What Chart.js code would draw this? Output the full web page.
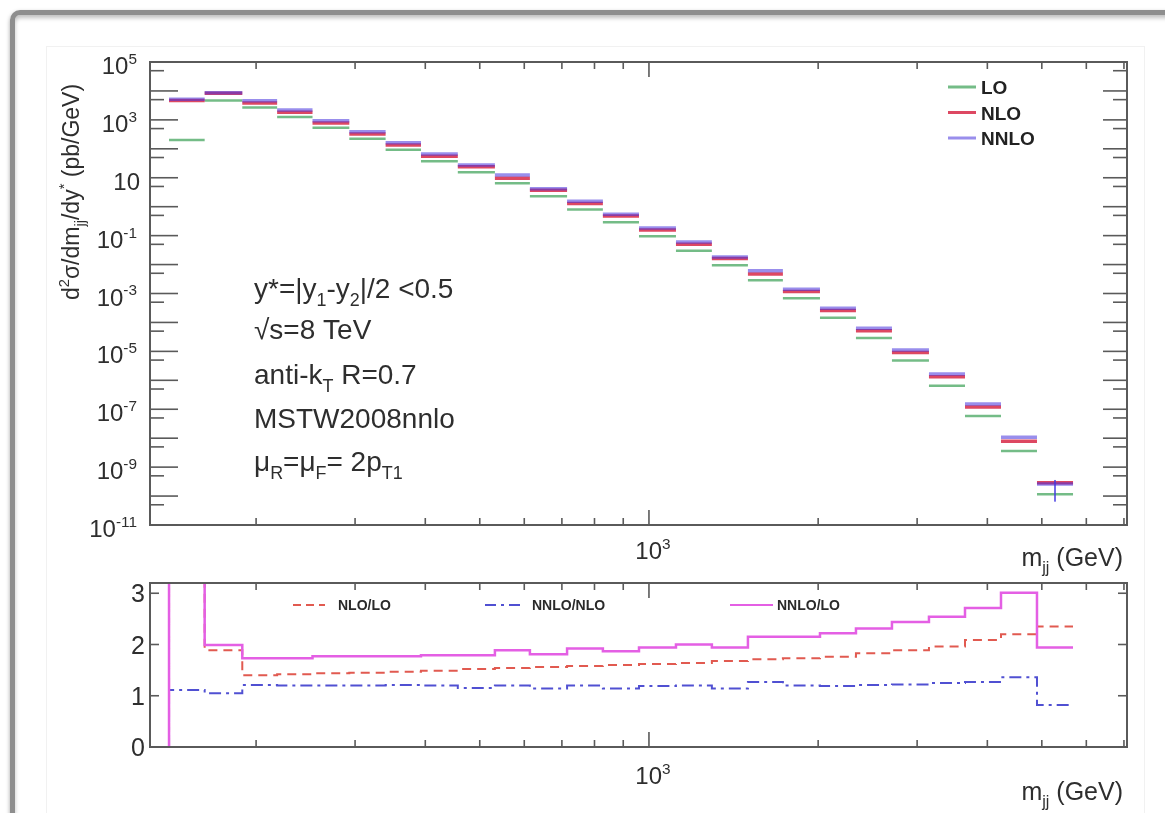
<!DOCTYPE html>
<html>
<head>
<meta charset="utf-8">
<title>Dijet mass spectrum</title>
<script src="https://cdn.jsdelivr.net/npm/chart.js@4.4.1/dist/chart.umd.min.js"></script>
<style>
  html, body { margin: 0; padding: 0; background: #fff; }
  #page { position: relative; width: 1165px; height: 813px; overflow: hidden; background: #fff; }
  .frame {
    position: absolute; left: 10px; top: 10px; width: 1200px; height: 860px;
    border: 5px solid #8e8e8e; border-radius: 10px;
    box-shadow: 0 2px 4px rgba(0,0,0,0.35), inset 0 3px 4px rgba(0,0,0,0.25);
  }
  .inner { position: absolute; left: 46px; top: 46px; width: 1097px; height: 800px; border: 1px solid #f1f1f1; }
  canvas { position: absolute; left: 0; top: 0; }
</style>
</head>
<body>
<div id="page">
  <div class="frame"></div>
  <div class="inner"></div>
  <canvas id="spectrum" width="1165" height="813"></canvas>
  <canvas id="ratio" width="1165" height="813"></canvas>
</div>
<script>
// m_jj bin edges (GeV)
const binEdges = [140, 162, 189, 218, 252, 293, 340, 393, 457, 532, 614, 715, 828,
  960, 1117, 1294, 1500, 1731, 2015, 2335, 2706, 3149, 3650, 4230, 4902, 5682];

// d2sigma/dm_jj/dy* (pb/GeV), one value per bin
const xsLO = [202, 4700, 2700, 1260, 530, 222, 93, 37, 15.4, 6.4, 2.3, 0.80, 0.292,
  0.095, 0.030, 0.0094, 0.00286, 6.8e-4, 1.45e-4, 2.9e-5, 4.8e-6, 6.5e-7, 5.8e-8, 3.6e-9, 1.15e-10];
const xsNLO = [4630, 8290, 3800, 1820, 778, 326, 135, 55, 24.0, 9.6, 3.67, 1.28, 0.479,
  0.155, 0.050, 0.0161, 0.0047, 1.17e-3, 2.59e-4, 5.19e-5, 9.2e-6, 1.33e-6, 1.20e-7, 7.9e-9, 2.9e-10];
const xsNNLO = [5140, 8700, 4600, 2190, 934, 391, 163, 66, 27.6, 12.4, 4.19, 1.54, 0.546,
  0.184, 0.060, 0.0183, 0.00615, 1.40e-3, 3.08e-4, 6.28e-5, 1.12e-5, 1.66e-6, 1.52e-7, 1.08e-8, 2.6e-10];
// NNLO uncertainty band of the highest mass bin
const nnloLastBinErr = [6.4e-11, 3.6e-10];

// ratios per bin
const ratioNLOoverLO = [25, 1.89, 1.40, 1.42, 1.44, 1.45, 1.47, 1.49, 1.52, 1.54, 1.56, 1.58, 1.60,
  1.62, 1.64, 1.68, 1.71, 1.73, 1.76, 1.83, 1.89, 1.96, 2.09, 2.20, 2.35];
const ratioNNLOoverNLO = [1.11, 1.05, 1.21, 1.20, 1.20, 1.20, 1.21, 1.20, 1.15, 1.20, 1.14, 1.20, 1.14,
  1.19, 1.20, 1.14, 1.27, 1.20, 1.19, 1.21, 1.22, 1.25, 1.27, 1.36, 0.82];
const ratioNNLOoverLO = [25, 1.99, 1.73, 1.73, 1.77, 1.77, 1.77, 1.79, 1.79, 1.89, 1.81, 1.92, 1.87,
  1.94, 2.00, 1.94, 2.15, 2.15, 2.22, 2.31, 2.44, 2.54, 2.71, 3.01, 1.94];

// axes
const massRange = [129.5, 7088];
const xsRange = [1e-11, 1e5];
const ratioRange = [0, 3.2];
const xsLabelExponents = [5, 3, 1, -1, -3, -5, -7, -9, -11];
const massMinorTicks = [200, 300, 400, 500, 600, 700, 800, 900, 2000, 3000, 4000, 5000, 6000, 7000];
const massMajorTicks = [1000];
const ratioTicks = [0, 1, 2, 3];

const FONT = '"Liberation Sans", Arial, Helvetica, sans-serif';
const TEXT_COLOR = '#2e2e2e';
const AXIS_COLOR = '#5a5a5a';
const COLORS = {
  lo: 'rgba(70, 165, 95, 0.75)',
  nlo: 'rgba(215, 40, 70, 0.85)',
  nnlo: 'rgba(70, 50, 220, 0.55)',
  rNloLo: 'rgb(225, 90, 80)',
  rNnloNlo: 'rgb(80, 80, 210)',
  rNnloLo: 'rgb(228, 95, 228)',
};

/** one horizontal segment per bin, broken between bins */
function binSegments(values) {
  const pts = [];
  values.forEach((v, i) => {
    pts.push({ x: binEdges[i], y: v }, { x: binEdges[i + 1], y: v }, { x: binEdges[i + 1], y: null });
  });
  return pts;
}

/** histogram outline starting from the zero line */
function histSteps(values) {
  const pts = [{ x: binEdges[0], y: 0 }];
  values.forEach((v, i) => pts.push({ x: binEdges[i], y: v }));
  pts.push({ x: binEdges[binEdges.length - 1], y: values[values.length - 1] });
  return pts;
}

// text with sub/superscripts: parts = [[text, 'sup'|'sub'|undefined], ...]
function richWidth(ctx, parts, size, weight) {
  let w = 0;
  parts.forEach(([t, mode]) => {
    const s = mode ? size * 0.64 : size;
    ctx.font = `${weight} ${s}px ${FONT}`;
    w += ctx.measureText(t).width;
  });
  return w;
}

function drawRich(ctx, parts, x, y, size, opts = {}) {
  const weight = opts.weight || 'normal';
  const w = richWidth(ctx, parts, size, weight);
  let cx = opts.align === 'right' ? x - w : opts.align === 'center' ? x - w / 2 : x;
  ctx.fillStyle = opts.color || TEXT_COLOR;
  ctx.textBaseline = 'alphabetic';
  ctx.textAlign = 'left';
  parts.forEach(([t, mode]) => {
    const s = mode ? size * 0.64 : size;
    const dy = mode === 'sup' ? -size * 0.42 : mode === 'sub' ? size * 0.28 : 0;
    ctx.font = `${weight} ${s}px ${FONT}`;
    ctx.fillText(t, cx, y + dy);
    cx += ctx.measureText(t).width;
  });
}

function line(ctx, x1, y1, x2, y2) {
  ctx.beginPath();
  ctx.moveTo(x1, y1);
  ctx.lineTo(x2, y2);
  ctx.stroke();
}

function drawMassTicks(ctx, a, x) {
  massMinorTicks.forEach((m) => {
    const px = x.getPixelForValue(m);
    if (px >= a.right - 1) return;
    line(ctx, px, a.bottom, px, a.bottom - 7);
    line(ctx, px, a.top, px, a.top + 7);
  });
  massMajorTicks.forEach((m) => {
    const px = x.getPixelForValue(m);
    line(ctx, px, a.bottom, px, a.bottom - 15);
    line(ctx, px, a.top, px, a.top + 15);
  });
}

function drawMassTitle(ctx, a, x, labelBase, titleBase) {
  massMajorTicks.forEach((m) => {
    drawRich(ctx, [['10'], ['3', 'sup']], x.getPixelForValue(m) + 4, labelBase, 24, { align: 'center' });
  });
  drawRich(ctx, [['m'], ['jj', 'sub'], [' (GeV)']], a.right - 4, titleBase, 25, { align: 'right' });
}

// axes, labels and texts of the spectrum panel
const spectrumDecor = {
  id: 'spectrumDecor',
  afterDraw(chart) {
    const { ctx, chartArea: a } = chart;
    const { x, y } = chart.scales;
    ctx.save();
    ctx.strokeStyle = AXIS_COLOR;
    ctx.lineWidth = 2;
    ctx.strokeRect(a.left, a.top, a.right - a.left, a.bottom - a.top);
    ctx.lineWidth = 1.6;

    const eMin = Math.round(Math.log10(xsRange[0]));
    const eMax = Math.round(Math.log10(xsRange[1]));
    for (let e = eMin; e <= eMax; e++) {
      const py = y.getPixelForValue(Math.pow(10, e));
      line(ctx, a.left, py, a.left + 28, py);
      line(ctx, a.right, py, a.right - 24, py);
      if (e > eMin) {
        const pm = y.getPixelForValue(5 * Math.pow(10, e - 1));
        line(ctx, a.left, pm, a.left + 14, pm);
        line(ctx, a.right, pm, a.right - 14, pm);
      }
    }
    drawMassTicks(ctx, a, x);

    xsLabelExponents.forEach((e) => {
      const py = y.getPixelForValue(Math.pow(10, e)) + 12;
      const parts = e === 1 ? [['10']] : [['10'], [String(e), 'sup']];
      drawRich(ctx, parts, e === 1 ? 140 : 137, py, 24, { align: 'right' });
    });
    drawMassTitle(ctx, a, x, 559, 566);

    // y axis title
    ctx.save();
    ctx.translate(79, 192);
    ctx.rotate(-Math.PI / 2);
    drawRich(ctx, [['d'], ['2', 'sup'], ['σ/dm'], ['jj', 'sub'], ['/dy'], ['*', 'sup'], [' (pb/GeV)']], 0, 0, 23, { align: 'center' });
    ctx.restore();

    // legend
    const legend = [['LO', COLORS.lo], ['NLO', COLORS.nlo], ['NNLO', COLORS.nnlo]];
    legend.forEach(([label, color], i) => {
      const ly = 87 + i * 25.5;
      ctx.strokeStyle = color;
      ctx.lineWidth = 3;
      line(ctx, 948, ly, 976, ly);
      drawRich(ctx, [[label]], 981, ly + 7, 19, { weight: 'bold', color: '#222' });
    });

    // physics settings
    const info = [
      [['y*=|y'], ['1', 'sub'], ['-y'], ['2', 'sub'], ['|/2 <0.5']],
      [['√s=8 TeV']],
      [['anti-k'], ['T', 'sub'], [' R=0.7']],
      [['MSTW2008nnlo']],
      [['μ'], ['R', 'sub'], ['=μ'], ['F', 'sub'], ['= 2p'], ['T1', 'sub']],
    ];
    const baselines = [298, 339, 384, 428, 471];
    info.forEach((parts, i) => drawRich(ctx, parts, 254, baselines[i], 28));
    ctx.restore();
  },
};

// axes, labels and legend of the ratio panel
const ratioDecor = {
  id: 'ratioDecor',
  afterDraw(chart) {
    const { ctx, chartArea: a } = chart;
    const { x, y } = chart.scales;
    ctx.save();
    ctx.strokeStyle = AXIS_COLOR;
    ctx.lineWidth = 2;
    ctx.strokeRect(a.left, a.top, a.right - a.left, a.bottom - a.top);
    ctx.lineWidth = 1.6;
    ratioTicks.forEach((t) => {
      const py = y.getPixelForValue(t);
      line(ctx, a.left, py, a.left + 9, py);
      line(ctx, a.right, py, a.right - 9, py);
      drawRich(ctx, [[String(t)]], 145, py + 9, 25, { align: 'right' });
    });
    drawMassTicks(ctx, a, x);
    drawMassTitle(ctx, a, x, 784, 800);

    const items = [
      ['NLO/LO', COLORS.rNloLo, [8, 5], 293, 325, 338],
      ['NNLO/NLO', COLORS.rNnloNlo, [11, 5, 3, 5], 485, 522, 532],
      ['NNLO/LO', COLORS.rNnloLo, [], 730, 773, 777],
    ];
    items.forEach(([label, color, dash, x1, x2, tx]) => {
      ctx.strokeStyle = color;
      ctx.lineWidth = 2;
      ctx.setLineDash(dash);
      line(ctx, x1, 605, x2, 605);
      ctx.setLineDash([]);
      drawRich(ctx, [[label]], tx, 610, 14, { weight: 'bold', color: '#2a2a2a' });
    });
    ctx.restore();
  },
};

const baseOptions = (padding, yScale) => ({
  responsive: false,
  animation: false,
  events: [],
  layout: { padding },
  plugins: { legend: { display: false }, tooltip: { enabled: false } },
  elements: { point: { radius: 0 } },
  scales: {
    x: { type: 'logarithmic', min: massRange[0], max: massRange[1], display: false },
    y: yScale,
  },
});

const errCenter = Math.sqrt(binEdges[binEdges.length - 2] * binEdges[binEdges.length - 1]);

new Chart(document.getElementById('spectrum'), {
  type: 'line',
  data: {
    datasets: [
      { label: 'NNLO', data: binSegments(xsNNLO), borderColor: COLORS.nnlo, borderWidth: 3.5 },
      { label: 'NNLO err', data: nnloLastBinErr.map((v) => ({ x: errCenter, y: v })), borderColor: 'rgba(70, 60, 225, 0.75)', borderWidth: 2 },
      { label: 'NLO', data: binSegments(xsNLO), borderColor: COLORS.nlo, borderWidth: 3.5 },
      { label: 'LO', data: binSegments(xsLO), borderColor: COLORS.lo, borderWidth: 2.5 },
    ],
  },
  options: baseOptions({ left: 150, top: 62, right: 1165 - 1127, bottom: 813 - 525 },
    { type: 'logarithmic', min: xsRange[0], max: xsRange[1], display: false }),
  plugins: [spectrumDecor],
});

new Chart(document.getElementById('ratio'), {
  type: 'line',
  data: {
    datasets: [
      { label: 'NNLO/LO', data: histSteps(ratioNNLOoverLO), borderColor: COLORS.rNnloLo, borderWidth: 2.5, stepped: 'before' },
      { label: 'NLO/LO', data: histSteps(ratioNLOoverLO), borderColor: COLORS.rNloLo, borderWidth: 2, borderDash: [9, 6], stepped: 'before' },
      { label: 'NNLO/NLO', data: histSteps(ratioNNLOoverNLO), borderColor: COLORS.rNnloNlo, borderWidth: 2, borderDash: [12, 5, 3, 5], stepped: 'before' },
    ],
  },
  options: baseOptions({ left: 150, top: 583, right: 1165 - 1127, bottom: 813 - 747 },
    { type: 'linear', min: ratioRange[0], max: ratioRange[1], display: false }),
  plugins: [ratioDecor],
});
</script>
</body>
</html>
